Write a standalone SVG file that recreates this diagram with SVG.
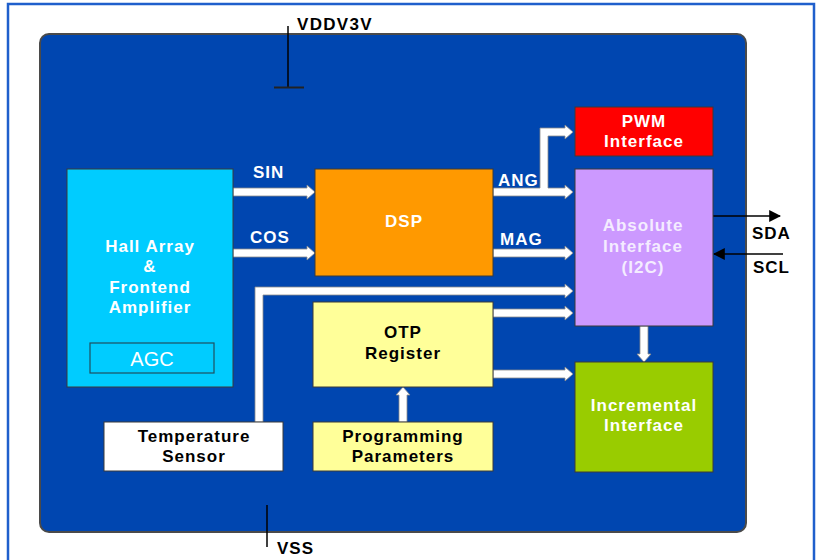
<svg xmlns="http://www.w3.org/2000/svg" width="817" height="560" viewBox="0 0 817 560">
<style>
.box{stroke:#3a3a3a;stroke-width:1}
.t{font-family:"Liberation Sans",Arial,sans-serif;font-weight:bold;font-size:17px;letter-spacing:1px;text-anchor:middle}
.w{fill:#ffffff}
.k{fill:#000000}
.fat{fill:#ffffff;stroke:#8a8a8a;stroke-width:0.8}
.thin{stroke:#000;stroke-width:1.5;fill:none}
</style>
<defs>
<marker id="ah" viewBox="0 0 10 10" refX="9" refY="5" markerWidth="8" markerHeight="8" orient="auto" markerUnits="strokeWidth">
<path d="M0,0 L10,5 L0,10 Z" fill="#000"/>
</marker>
</defs>
<rect x="0" y="0" width="817" height="560" fill="#ffffff"/>
<path d="M8,562 V4 H814 V562" fill="none" stroke="#1f5fcc" stroke-width="2.5"/>
<g id="chip">
<rect x="40" y="34" width="706" height="498" rx="9" fill="#0046b0" stroke="#4a4a4a" stroke-width="2"/>
</g>
<g id="vdd">
<line x1="288" y1="26" x2="288" y2="87" stroke="#000" stroke-width="1.5"/>
<line x1="274" y1="87.5" x2="304" y2="87.5" stroke="#222" stroke-width="2"/>
<text x="297" y="30" class="t k" style="text-anchor:start;letter-spacing:1.3px">VDDV3V</text>
</g>
<g id="vss">
<line x1="267" y1="505" x2="267" y2="547" stroke="#000" stroke-width="1.5"/>
<text x="277" y="554" class="t k" style="text-anchor:start">VSS</text>
</g>
<g id="connectors">
<polygon class="fat" points="233,188 307,188 307,185 315,192 307,199 307,196 233,196"/>
<polygon class="fat" points="233,249 307,249 307,246 315,253 307,260 307,257 233,257"/>
<polygon class="fat" points="493,188 540,188 540,128 565,128 565,125 573,132 565,139 565,136 548,136 548,188 565,188 565,185 573,192 565,199 565,196 493,196"/>
<polygon class="fat" points="493,249 565,249 565,246 573,253 565,260 565,257 493,257"/>
<polygon class="fat" points="255,422 255,287 565,287 565,284 573,291 565,298 565,295 263,295 263,422"/>
<polygon class="fat" points="493,309 565,309 565,306 573,313 565,320 565,317 493,317"/>
<polygon class="fat" points="493,370 565,370 565,367 573,374 565,381 565,378 493,378"/>
<polygon class="fat" points="399,422 399,395 396,395 403,387 410,395 407,395 407,422"/>
<polygon class="fat" points="640,326 640,354 637,354 644,362 651,354 648,354 648,326"/>
<line class="thin" x1="713" y1="216" x2="780" y2="216" marker-end="url(#ah)"/>
<line class="thin" x1="783" y1="254" x2="714" y2="254" marker-end="url(#ah)"/>
<text x="253" y="178" class="t w" style="text-anchor:start">SIN</text>
<text x="250" y="243" class="t w" style="text-anchor:start">COS</text>
<text x="498" y="186" class="t w" style="text-anchor:start">ANG</text>
<text x="500" y="245" class="t w" style="text-anchor:start">MAG</text>
<text x="752" y="239" class="t k" style="text-anchor:start">SDA</text>
<text x="753" y="273" class="t k" style="text-anchor:start">SCL</text>
</g>
<g id="hall">
<rect class="box" x="67" y="169" width="166" height="218" fill="#00ccff"/>
<text class="t w" x="150" y="252">Hall Array</text>
<text class="t w" x="150" y="272">&amp;</text>
<text class="t w" x="150" y="293">Frontend</text>
<text class="t w" x="150" y="313">Amplifier</text>
</g>
<g id="agc">
<rect x="90" y="343" width="124" height="30" fill="#00ccff" stroke="#1f4f5f" stroke-width="1.2"/>
<text x="152" y="366" style="font-family:'Liberation Sans',Arial,sans-serif;font-size:20px;text-anchor:middle" fill="#ffffff">AGC</text>
</g>
<g id="dsp">
<rect class="box" x="315" y="169" width="178" height="107" fill="#ff9900"/>
<text class="t w" x="404" y="227">DSP</text>
</g>
<g id="pwm">
<rect class="box" x="575" y="107" width="138" height="49" fill="#ff0000"/>
<text class="t w" x="644" y="127">PWM</text>
<text class="t w" x="644" y="147">Interface</text>
</g>
<g id="absolute">
<rect class="box" x="575" y="169" width="138" height="157" fill="#cc99ff"/>
<text class="t" x="643" y="231" fill="#f4ecff">Absolute</text>
<text class="t" x="643" y="252" fill="#f4ecff">Interface</text>
<text class="t" x="643" y="273" fill="#f4ecff">(I2C)</text>
</g>
<g id="otp">
<rect class="box" x="313" y="302" width="180" height="85" fill="#ffff99"/>
<text class="t k" x="403" y="338">OTP</text>
<text class="t k" x="403" y="359">Register</text>
</g>
<g id="temperature">
<rect class="box" x="104" y="422" width="179" height="49" fill="#ffffff"/>
<text class="t k" x="194" y="442">Temperature</text>
<text class="t k" x="194" y="462">Sensor</text>
</g>
<g id="programming">
<rect class="box" x="313" y="422" width="180" height="49" fill="#ffff99"/>
<text class="t k" x="403" y="442">Programming</text>
<text class="t k" x="403" y="462">Parameters</text>
</g>
<g id="incremental">
<rect class="box" x="575" y="362" width="138" height="110" fill="#99cc00"/>
<text class="t w" x="644" y="411">Incremental</text>
<text class="t w" x="644" y="431">Interface</text>
</g>
</svg>
